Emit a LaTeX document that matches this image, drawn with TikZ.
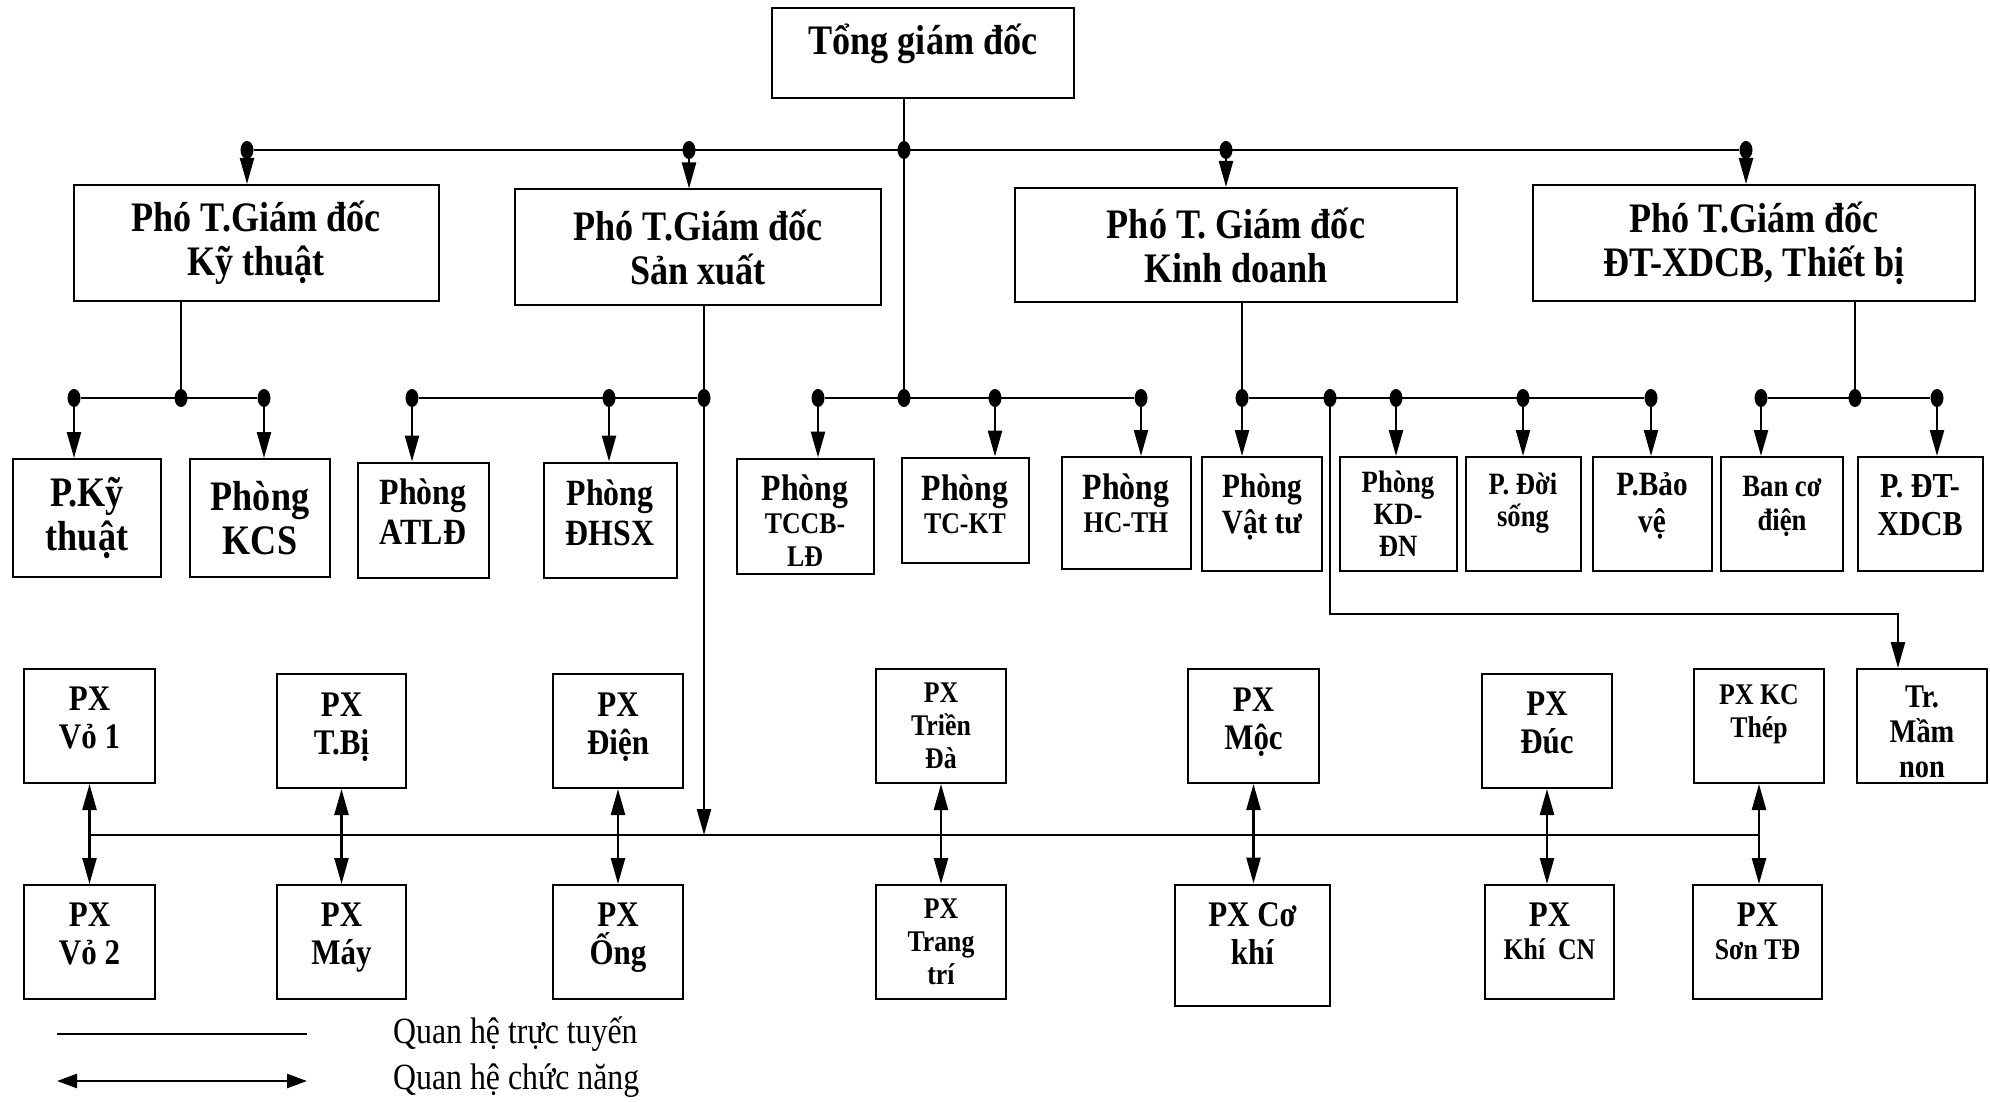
\documentclass[tikz,border=0pt]{standalone}
\usepackage{fontspec}
\setmainfont{Liberation Serif}[FakeStretch=0.86]
\usetikzlibrary{arrows.meta,shapes.geometric}

\newcommand{\tmoyen}{\fontsize{37}{40}\selectfont}
\newcommand{\tpetit}{\fontsize{30}{33}\selectfont}

\begin{document}
\begin{tikzpicture}[x=1pt,y=-1pt]
\tikzset{boite/.style={draw, line width=2pt, align=center, inner sep=0pt},
  gros/.style={font=\bfseries\fontsize{42}{44}\selectfont},
  moyen/.style={font=\bfseries\fontsize{37}{40}\selectfont},
  petit/.style={font=\bfseries\fontsize{30}{33}\selectfont},
  px/.style={font=\bfseries\fontsize{36}{38}\selectfont},
  monte/.style={text depth=#1},
  point/.style={fill, ellipse, inner sep=0pt, minimum width=13pt, minimum height=18pt},
  trait/.style={line width=2.4pt},
  fleche/.style={line width=2.4pt, -{Triangle[length=26pt,width=14pt]}},
  dfleche/.style={line width=2.4pt, {Triangle[length=26pt,width=14pt]}-{Triangle[length=26pt,width=14pt]}}}
\useasboundingbox (0,0) rectangle (1990,1102);

% Tong giam doc et pho tong giam doc
\node[boite, gros, monte=27pt, minimum width=302pt, minimum height=90pt] (TGD) at (923,53) {Tổng giám đốc};
\node[boite, gros, minimum width=365pt, minimum height=116pt] (VPKT) at (256,243) {Phó T.Giám đốc\\Kỹ thuật};
\node[boite, gros, minimum width=366pt, minimum height=115pt] (VPSX) at (698,247) {Phó T.Giám đốc\\Sản xuất};
\node[boite, gros, minimum width=442pt, minimum height=114pt] (VPKD) at (1236,245) {Phó T. Giám đốc\\Kinh doanh};
\node[boite, gros, minimum width=442pt, minimum height=116pt] (VPDT) at (1754,243) {Phó T.Giám đốc\\ĐT-XDCB, Thiết bị};

% phong ban
\node[boite, gros, minimum width=148pt, minimum height=118pt] (PKT) at (87,518) {P.Kỹ\\thuật};
\node[boite, gros, minimum width=140pt, minimum height=118pt] (PKCS) at (260,518) {Phòng\\KCS};
\node[boite, moyen, monte=16pt, minimum width=131pt, minimum height=115pt] (PATLD) at (423,520) {Phòng\\ATLĐ};
\node[boite, moyen, monte=14pt, minimum width=133pt, minimum height=115pt] (PDHSX) at (610,520) {Phòng\\ĐHSX};
\node[boite, petit, minimum width=137pt, minimum height=115pt] (PTCCB) at (805,516) {{\tmoyen\rule{0pt}{36pt}Phòng}\\TCCB-\\LĐ};
\node[boite, petit, monte=12pt, minimum width=127pt, minimum height=105pt] (PTCKT) at (965,510) {{\tmoyen Phòng}\\TC-KT};
\node[boite, petit, monte=20pt, minimum width=129pt, minimum height=112pt] (PHCTH) at (1126,513) {{\tmoyen Phòng}\\HC-TH};
\node[boite, font=\bfseries\fontsize{34}{36}\selectfont, monte=21pt, minimum width=120pt, minimum height=114pt] (PVT) at (1262,514) {Phòng\\Vật tư};
\node[boite, font=\bfseries\fontsize{31}{32}\selectfont, minimum width=117pt, minimum height=114pt] (PKDDN) at (1398,514) {Phòng\\KD-\\ĐN};
\node[boite, font=\bfseries\fontsize{31}{32}\selectfont, monte=29pt, minimum width=115pt, minimum height=114pt] (PDS) at (1523,514) {P. Đời\\sống};
\node[boite, font=\bfseries\fontsize{34}{37}\selectfont, monte=23pt, minimum width=119pt, minimum height=114pt] (PBV) at (1652,514) {P.Bảo\\vệ};
\node[boite, font=\bfseries\fontsize{31}{34}\selectfont, monte=21pt, minimum width=122pt, minimum height=114pt] (BCD) at (1782,514) {Ban cơ\\điện};
\node[boite, font=\bfseries\fontsize{35}{38}\selectfont, monte=18pt, minimum width=125pt, minimum height=114pt] (PDT) at (1920,514) {P. ĐT-\\XDCB};

% phan xuong
\node[boite, px, monte=16pt, minimum width=131pt, minimum height=114pt] (PXVo1) at (89.5,726) {PX\\Vỏ 1};
\node[boite, px, monte=15pt, minimum width=129pt, minimum height=114pt] (PXTBi) at (341.5,731) {PX\\T.Bị};
\node[boite, px, monte=15pt, minimum width=130pt, minimum height=114pt] (PXDien) at (618,731) {PX\\Điện};
\node[boite, petit, minimum width=130pt, minimum height=114pt] (PXTrien) at (941,726) {PX\\Triền\\Đà};
\node[boite, px, monte=15pt, minimum width=131pt, minimum height=114pt] (PXMoc) at (1253.5,726) {PX\\Mộc};
\node[boite, px, monte=16pt, minimum width=130pt, minimum height=114pt] (PXDuc) at (1547,731) {PX\\Đúc};
\node[boite, petit, monte=29pt, minimum width=130pt, minimum height=114pt] (PXKC) at (1759,726) {PX KC\\Thép};
\node[boite, font=\bfseries\fontsize{33}{35}\selectfont, minimum width=130pt, minimum height=114pt] (TrMN) at (1922,726) {\rule{0pt}{34pt}Tr.\\Mầm\\non};

\node[boite, px, monte=16pt, minimum width=131pt, minimum height=114pt] (PXVo2) at (89.5,942) {PX\\Vỏ 2};
\node[boite, px, monte=16pt, minimum width=129pt, minimum height=114pt] (PXMay) at (341.5,942) {PX\\Máy};
\node[boite, px, monte=16pt, minimum width=130pt, minimum height=114pt] (PXOng) at (618,942) {PX\\Ống};
\node[boite, petit, minimum width=130pt, minimum height=114pt] (PXTT) at (941,942) {PX\\Trang\\trí};
\node[boite, px, monte=22pt, minimum width=155pt, minimum height=121pt] (PXCK) at (1252.5,945) {PX Cơ\\khí};
\node[boite, petit, monte=22pt, minimum width=129pt, minimum height=114pt] (PXKhi) at (1549.5,942) {{\fontsize{36}{38}\selectfont PX}\\Khí~~CN};
\node[boite, petit, monte=22pt, minimum width=129pt, minimum height=114pt] (PXSon) at (1757.5,942) {{\fontsize{36}{38}\selectfont PX}\\Sơn TĐ};

% points de jonction
\node[point] (t1) at (247,150) {};
\node[point] (t2) at (689,150) {};
\node[point] (t3) at (904,150) {};
\node[point] (t4) at (1226,150) {};
\node[point] (t5) at (1746,150) {};
\node[point] (k1) at (74,398) {};
\node[point] (k2) at (181,398) {};
\node[point] (k3) at (264,398) {};
\node[point] (s1) at (412,398) {};
\node[point] (s2) at (609,398) {};
\node[point] (s3) at (704,398) {};
\node[point] (c1) at (818,398) {};
\node[point] (c2) at (904,398) {};
\node[point] (c3) at (995,398) {};
\node[point] (c4) at (1141,398) {};
\node[point] (v1) at (1242,398) {};
\node[point] (v2) at (1330,398) {};
\node[point] (v3) at (1396,398) {};
\node[point] (v4) at (1523,398) {};
\node[point] (v5) at (1651,398) {};
\node[point] (e1) at (1761,398) {};
\node[point] (e2) at (1855,398) {};
\node[point] (e3) at (1937,398) {};
\coordinate (bus) at (704,835);
\coordinate (mn) at (1898,614);

% liaisons
\draw[trait] (t1) -- (t5);
\draw[trait] (t3 |- TGD.south) -- (c2);
\draw[fleche] (t1) -- (t1 |- VPKT.north);
\draw[fleche] (t2) -- (t2 |- VPSX.north);
\draw[fleche] (t4) -- (t4 |- VPKD.north);
\draw[fleche] (t5) -- (t5 |- VPDT.north);

\draw[trait] (k2 |- VPKT.south) -- (k2);
\draw[trait] (k1) -- (k3);
\draw[fleche] (k1) -- (k1 |- PKT.north);
\draw[fleche] (k3) -- (k3 |- PKCS.north);

\draw[trait] (s1) -- (s3);
\draw[fleche] (s3 |- VPSX.south) -- (bus);
\draw[fleche] (s1) -- (s1 |- PATLD.north);
\draw[fleche] (s2) -- (s2 |- PDHSX.north);

\draw[trait] (c1) -- (c4);
\draw[fleche] (c1) -- (c1 |- PTCCB.north);
\draw[fleche] (c3) -- (c3 |- PTCKT.north);
\draw[fleche] (c4) -- (c4 |- PHCTH.north);

\draw[trait] (v1 |- VPKD.south) -- (v1);
\draw[trait] (v1) -- (v5);
\draw[fleche] (v1) -- (v1 |- PVT.north);
\draw[fleche] (v3) -- (v3 |- PKDDN.north);
\draw[fleche] (v4) -- (v4 |- PDS.north);
\draw[fleche] (v5) -- (v5 |- PBV.north);
\draw[fleche] (v2) |- (mn) -- (mn |- TrMN.north);

\draw[trait] (e2 |- VPDT.south) -- (e2);
\draw[trait] (e1) -- (e3);
\draw[fleche] (e1) -- (e1 |- BCD.north);
\draw[fleche] (e3) -- (e3 |- PDT.north);

% quan he chuc nang
\draw[trait] (PXVo1.south |- bus) -- (PXKC.south |- bus);
\draw[dfleche] (PXVo1.south) -- (PXVo1.south |- PXVo2.north);
\draw[dfleche] (PXTBi.south) -- (PXTBi.south |- PXMay.north);
\draw[dfleche] (PXDien.south) -- (PXDien.south |- PXOng.north);
\draw[dfleche] (PXTrien.south) -- (PXTrien.south |- PXTT.north);
\draw[dfleche] (PXMoc.south) -- (PXMoc.south |- PXCK.north);
\draw[dfleche] (PXDuc.south) -- (PXDuc.south |- PXKhi.north);
\draw[dfleche] (PXKC.south) -- (PXKC.south |- PXSon.north);

% legende
\coordinate (lg1) at (57,1034);
\coordinate (lg2) at (307,1034);
\coordinate (lg3) at (57,1081);
\coordinate (lg4) at (307,1081);
\draw[line width=1.5pt] (lg1) -- (lg2);
\draw[line width=2.6pt, {Triangle[length=20pt,width=14pt]}-{Triangle[length=20pt,width=14pt]}] (lg3) -- (lg4);
\node[anchor=west, inner sep=0pt, font=\fontsize{37}{40}\selectfont] (qtt) at (393,1034) {Quan hệ trực tuyến};
\node[anchor=west, inner sep=0pt, font=\fontsize{37}{40}\selectfont] (qcn) at (393,1081) {Quan hệ chức năng};
\end{tikzpicture}
\end{document}
